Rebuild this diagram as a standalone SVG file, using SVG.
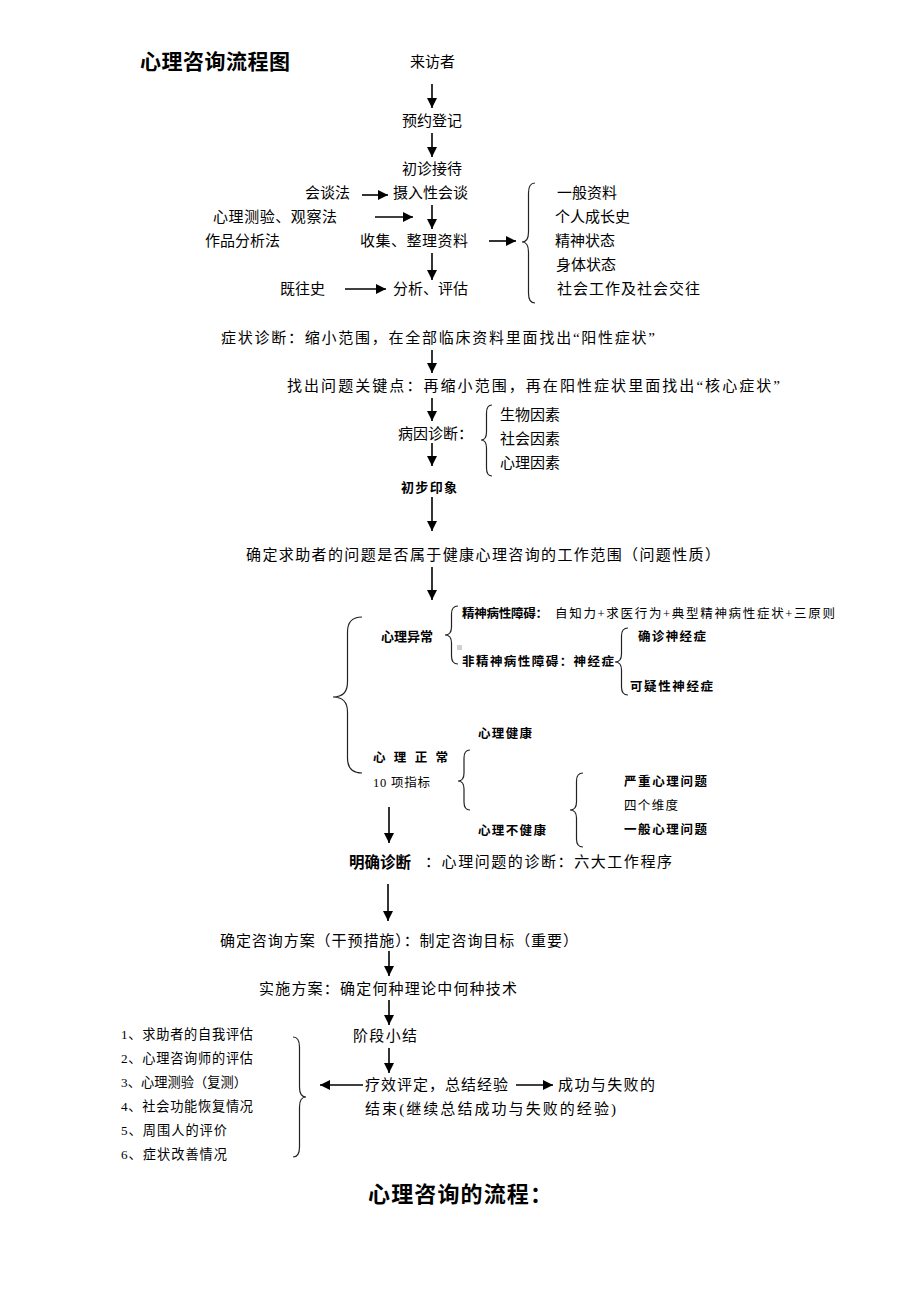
<svg xmlns="http://www.w3.org/2000/svg" width="920" height="1302" viewBox="0 0 920 1302">
<style>
text{font-family:"Liberation Serif","Noto Sans CJK SC",serif;font-size:15px;fill:#000}
.s{font-size:12.5px}
.l{font-size:13.2px}
.m{font-size:13px}
.b{font-weight:bold}
.h{font-size:21px;font-weight:bold}
.ln{stroke:#000;stroke-width:1.6;fill:none}
.br{stroke:#222;stroke-width:1.2;fill:none}
</style>
<defs>
<marker id="ah" markerUnits="userSpaceOnUse" markerWidth="10" markerHeight="10" refX="10" refY="5" orient="auto">
<path d="M0,0 L10,5 L0,10 z" fill="#000"/>
</marker>
</defs>
<rect width="920" height="1302" fill="#fff"/>

<g id="connectors">
<line class="ln" x1="432" y1="84" x2="432" y2="108" marker-end="url(#ah)"/>
<line class="ln" x1="432" y1="133" x2="432" y2="157" marker-end="url(#ah)"/>
<line class="ln" x1="362" y1="195" x2="388" y2="195" marker-end="url(#ah)"/>
<line class="ln" x1="375" y1="217" x2="413" y2="217" marker-end="url(#ah)"/>
<line class="ln" x1="432" y1="205" x2="432" y2="229" marker-end="url(#ah)"/>
<line class="ln" x1="489" y1="241" x2="516" y2="241" marker-end="url(#ah)"/>
<line class="ln" x1="432" y1="253" x2="432" y2="280" marker-end="url(#ah)"/>
<line class="ln" x1="345" y1="289" x2="386" y2="289" marker-end="url(#ah)"/>
<line class="ln" x1="432" y1="350" x2="432" y2="373" marker-end="url(#ah)"/>
<line class="ln" x1="432" y1="398" x2="432" y2="421" marker-end="url(#ah)"/>
<line class="ln" x1="432" y1="443" x2="432" y2="466" marker-end="url(#ah)"/>
<line class="ln" x1="432" y1="497" x2="432" y2="531" marker-end="url(#ah)"/>
<line class="ln" x1="432" y1="567" x2="432" y2="600" marker-end="url(#ah)"/>
<line class="ln" x1="389" y1="807" x2="389" y2="843" marker-end="url(#ah)"/>
<line class="ln" x1="388" y1="884" x2="388" y2="921" marker-end="url(#ah)"/>
<line class="ln" x1="389" y1="951" x2="389" y2="976" marker-end="url(#ah)"/>
<line class="ln" x1="389" y1="1000" x2="389" y2="1025" marker-end="url(#ah)"/>
<line class="ln" x1="389" y1="1048" x2="389" y2="1073" marker-end="url(#ah)"/>
<line class="ln" x1="363" y1="1085" x2="320" y2="1085" marker-end="url(#ah)"/>
<line class="ln" x1="516" y1="1085" x2="553" y2="1085" marker-end="url(#ah)"/>
</g>

<g id="braces">
<path class="br" d="M535,183 Q528.5,183 528.5,193 L528.5,232 Q528.5,242 522,242 Q528.5,242 528.5,252 L528.5,293 Q528.5,303 535,303"/>
<path class="br" d="M492,405 Q486.5,405 486.5,413 L486.5,432 Q486.5,440 481,440 Q486.5,440 486.5,448 L486.5,468 Q486.5,476 492,476"/>
<path class="br" d="M362,617 Q347.5,617 347.5,632 L347.5,682 Q347.5,697 333,697 Q347.5,697 347.5,712 L347.5,758 Q347.5,773 362,773"/>
<path class="br" d="M458,606 Q451.5,606 451.5,614 L451.5,627 Q451.5,635 445,635 Q451.5,635 451.5,643 L451.5,656 Q451.5,664 458,664"/>
<path class="br" d="M628,628 Q621.5,628 621.5,636 L621.5,654 Q621.5,662 615,662 Q621.5,662 621.5,670 L621.5,687 Q621.5,695 628,695"/>
<path class="br" d="M470,750 Q464,750 464,758 L464,773 Q464,781 458,781 Q464,781 464,789 L464,802 Q464,810 470,810"/>
<path class="br" d="M583,773 Q576.5,773 576.5,781 L576.5,802 Q576.5,810 570,810 Q576.5,810 576.5,818 L576.5,839 Q576.5,847 583,847"/>
<path class="br" d="M293,1037 Q299.5,1037 299.5,1047 L299.5,1087 Q299.5,1097 306,1097 Q299.5,1097 299.5,1107 L299.5,1147 Q299.5,1157 293,1157"/>
</g>

<g id="title"><text class="h" x="140" y="69" textLength="150">心理咨询流程图</text></g>
<g id="n-visitor"><text x="410" y="67">来访者</text></g>
<g id="n-register"><text x="402" y="126">预约登记</text></g>
<g id="n-reception"><text x="402" y="174">初诊接待</text></g>
<g id="n-talk-method"><text x="305" y="198">会谈法</text></g>
<g id="n-intake"><text x="393" y="198">摄入性会谈</text></g>
<g id="n-test-method"><text x="213" y="222" textLength="124">心理测验、观察法</text></g>
<g id="n-work-method"><text x="205" y="246">作品分析法</text></g>
<g id="n-collect"><text x="360" y="246" textLength="108">收集、整理资料</text></g>
<g id="n-history"><text x="280" y="294">既往史</text></g>
<g id="n-analyze"><text x="393" y="294">分析、评估</text></g>
<g id="n-materials">
<text x="557" y="198">一般资料</text>
<text x="555" y="222">个人成长史</text>
<text x="555" y="246">精神状态</text>
<text x="556" y="270">身体状态</text>
<text x="557" y="294" textLength="143">社会工作及社会交往</text>
</g>
<g id="n-symptom"><text x="221" y="343" textLength="434">症状诊断：缩小范围，在全部临床资料里面找出“阳性症状”</text></g>
<g id="n-key"><text x="287" y="391" textLength="493">找出问题关键点：再缩小范围，再在阳性症状里面找出“核心症状”</text></g>
<g id="n-cause">
<text x="398" y="439">病因诊断：</text>
<text x="500" y="420">生物因素</text>
<text x="500" y="444">社会因素</text>
<text x="500" y="468">心理因素</text>
</g>
<g id="n-impression"><text class="m b" x="401" y="492" textLength="56">初步印象</text></g>
<g id="n-scope"><text x="246" y="560" textLength="474">确定求助者的问题是否属于健康心理咨询的工作范围（问题性质）</text></g>
<g id="n-abnormal">
<text class="m b" x="381" y="641" textLength="52">心理异常</text>
<text class="s b" x="462" y="617.5" textLength="86">精神病性障碍：</text>
<text class="s" x="555" y="617.5" textLength="280">自知力+求医行为+典型精神病性症状+三原则</text>
<rect x="457" y="645" width="5" height="5" fill="#d0d0d0"/>
<text class="s b" x="462" y="665.5" textLength="152">非精神病性障碍：神经症</text>
<text class="s b" x="638" y="640.5" textLength="68">确诊神经症</text>
<text class="s b" x="630" y="690.5" textLength="83">可疑性神经症</text>
</g>
<g id="n-normal">
<text class="s b" x="373" y="761.5" textLength="75">心 理 正 常</text>
<text class="s" x="373" y="786.5" textLength="57">10 项指标</text>
<text class="s b" x="478" y="737.5" textLength="54">心理健康</text>
<text class="s b" x="478" y="834.5" textLength="68">心理不健康</text>
<text class="s b" x="624" y="785.5" textLength="83">严重心理问题</text>
<text class="s" x="624" y="809.5" textLength="54">四个维度</text>
<text class="s b" x="624" y="833.5" textLength="83">一般心理问题</text>
</g>
<g id="n-diagnosis">
<text class="b" x="349" y="868" style="font-size:15.5px" textLength="62">明确诊断</text>
<text x="425" y="867" textLength="247">：心理问题的诊断：六大工作程序</text>
</g>
<g id="n-plan"><text x="220" y="946" textLength="358">确定咨询方案（干预措施）：制定咨询目标（重要）</text></g>
<g id="n-implement"><text x="259" y="994" textLength="258">实施方案：确定何种理论中何种技术</text></g>
<g id="n-stage"><text x="353" y="1041" textLength="64">阶段小结</text></g>
<g id="n-eval-list">
<text class="l" x="121" y="1038.5" textLength="132">1、求助者的自我评估</text>
<text class="l" x="121" y="1062.5" textLength="132">2、心理咨询师的评估</text>
<text class="l" x="121" y="1086.5" textLength="126">3、心理测验（复测）</text>
<text class="l" x="121" y="1110.5" textLength="132">4、社会功能恢复情况</text>
<text class="l" x="121" y="1134.5" textLength="106">5、周围人的评价</text>
<text class="l" x="121" y="1158.5" textLength="106">6、症状改善情况</text>
</g>
<g id="n-effect"><text x="365" y="1090" textLength="143">疗效评定，总结经验</text></g>
<g id="n-success"><text x="558" y="1090" textLength="97">成功与失败的</text></g>
<g id="n-end"><text x="365" y="1114" textLength="251">结束(继续总结成功与失败的经验)</text></g>
<g id="subtitle"><text x="368" y="1202" style="font-size:22px;font-weight:bold" textLength="184">心理咨询的流程：</text></g>
</svg>
